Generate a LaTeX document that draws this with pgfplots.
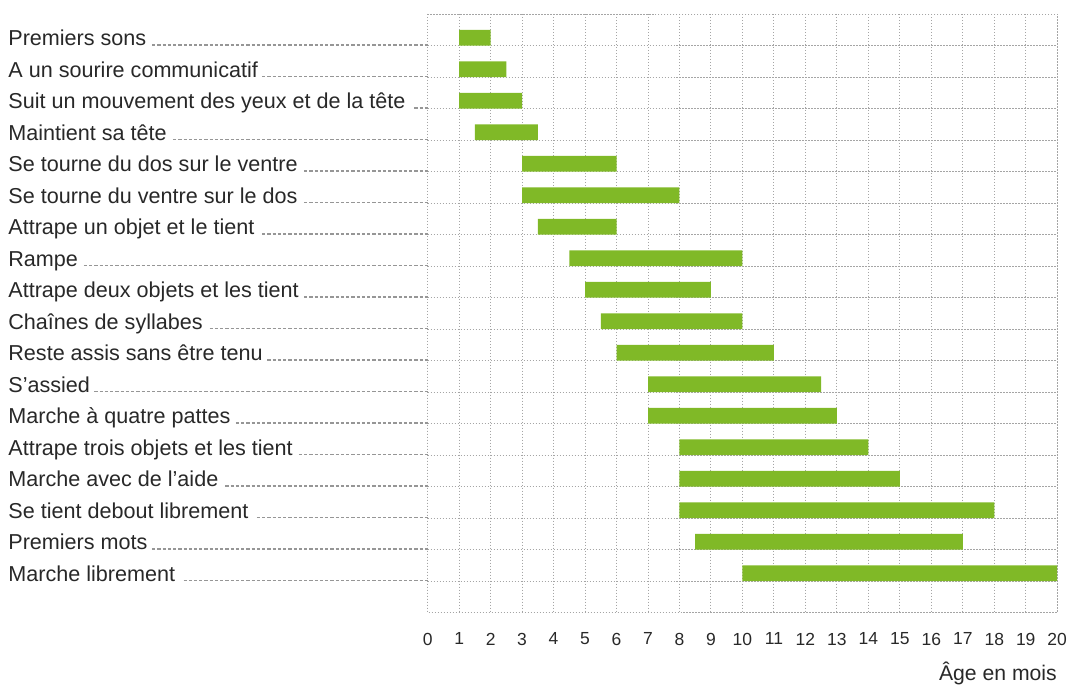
\documentclass[border=0pt]{standalone}
\usepackage{fontspec}
\setmainfont{Liberation Sans}
\usepackage{pgfplots}
\usepackage{pgfplotstable}
\pgfplotsset{compat=1.18}
\definecolor{barg}{RGB}{128,185,39}
\definecolor{leadgray}{RGB}{150,150,150}
\definecolor{gridgray}{RGB}{165,165,165}
\definecolor{txt}{RGB}{40,40,40}
\newcommand{\lab}[1]{\makebox[210pt][l]{#1\hspace{1pt}{\color{leadgray}\leaders\hbox to 2.625pt{\hfil\rule[0pt]{1.625pt}{0.55pt}}\hfill}}}
\pgfplotstableread{
pos start end
0.75 1 2
1.75 1 2.5
2.75 1 3
3.75 1.5 3.5
4.75 3 6
5.75 3 8
6.75 3.5 6
7.75 4.5 10
8.75 5 9
9.75 5.5 10
10.75 6 11
11.75 7 12.5
12.75 7 13
13.75 8 14
14.75 8 15
15.75 8 18
16.75 8.5 17
17.75 10 20
}\milestones
\begin{document}
\begin{tikzpicture}
\begin{axis}[
  scale only axis,
  width=315pt, height=299.5pt,
  xmin=0, xmax=20, ymin=0, ymax=19,
  y dir=reverse,
  clip=false,
  xbar stacked,
  bar width=0.5,
  xtick={0,...,20},
  ytick={1,...,18},
  yticklabels={
    \lab{Premiers sons},
    \lab{A un sourire communicatif},
    \lab{Suit un mouvement des yeux et de la tête},
    \lab{Maintient sa tête},
    \lab{Se tourne du dos sur le ventre},
    \lab{Se tourne du ventre sur le dos},
    \lab{Attrape un objet et le tient},
    \lab{Rampe},
    \lab{Attrape deux objets et les tient},
    \lab{Chaînes de syllabes},
    \lab{Reste assis sans être tenu},
    \lab{S’assied},
    \lab{Marche à quatre pattes},
    \lab{Attrape trois objets et les tient},
    \lab{Marche avec de l’aide},
    \lab{Se tient debout librement},
    \lab{Premiers mots},
    \lab{Marche librement}},
  major tick length=0pt,
  grid=major,
  major grid style={gridgray, line width=0.5pt, dash pattern=on 0.75pt off 0.75pt},
  axis line style={gridgray, line width=0.5pt, dash pattern=on 0.75pt off 0.75pt},
  yticklabel style={anchor=base west, inner sep=0pt, xshift=-210pt,
    font=\fontsize{10.8}{12}\selectfont, text=txt},
  xticklabel style={font=\fontsize{8.75}{10}\selectfont, text=txt, inner sep=0pt, yshift=-10pt},
  /pgf/number format/assume math mode=true,
  xlabel={Âge en mois},
  xlabel style={at={(axis description cs:1,0)}, anchor=base east, inner sep=0pt,
    yshift=-34pt, font=\fontsize{10.6}{12}\selectfont, text=txt},
]
\addplot[draw=none, fill=none] table[x=start, y=pos] {\milestones};
\addplot[draw=none, fill=barg] table[x expr=\thisrow{end}-\thisrow{start}, y=pos] {\milestones};
\path ([xshift=-214pt,yshift=-37pt]axis description cs:0,0) rectangle ([xshift=4.9pt,yshift=7pt]axis description cs:1,1);
\end{axis}
\end{tikzpicture}
\end{document}
